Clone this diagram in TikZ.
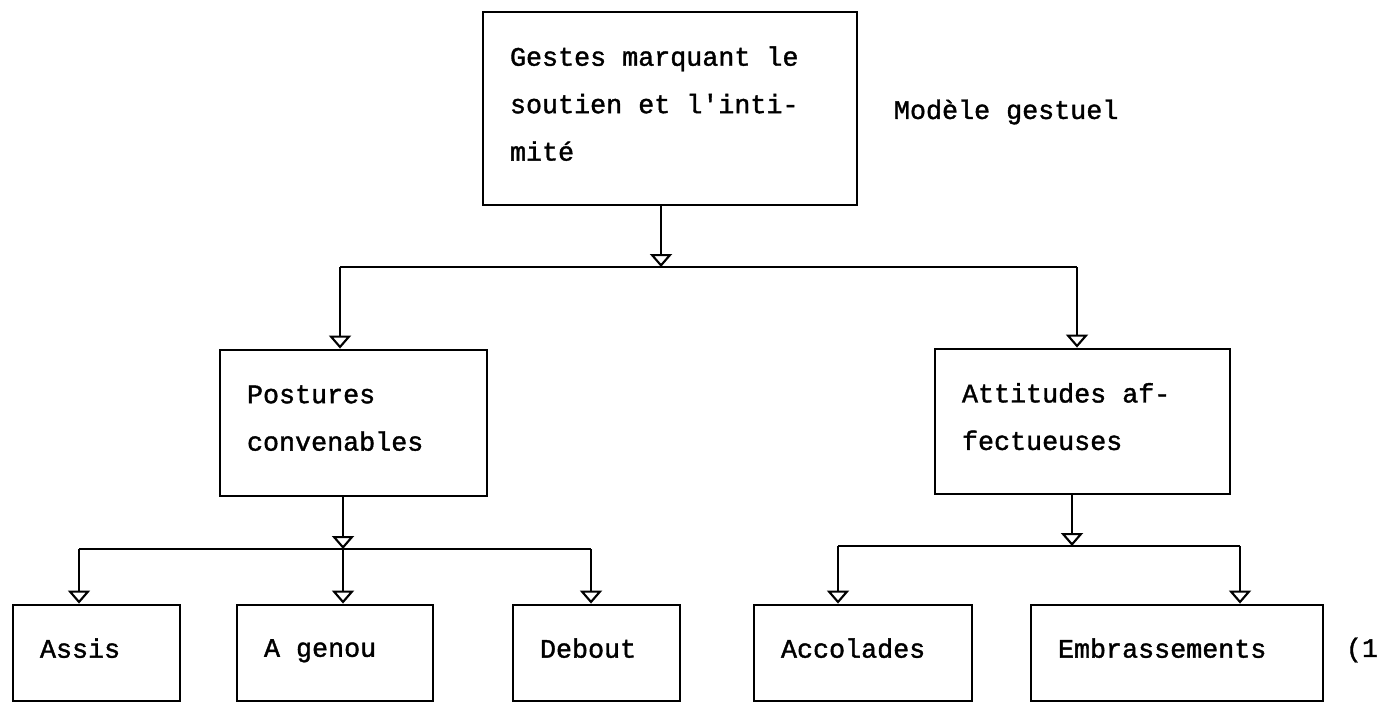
\documentclass[tikz,border=0pt]{standalone}
\usepackage{fontspec}
\setmonofont{Liberation Mono}[WordSpace={1,0,0}, RawFeature={embolden=1.4}]
\usetikzlibrary{arrows.meta}

\begin{document}
\begin{tikzpicture}[line width=1.1pt,
		main/.style = {draw, line width=1.6pt, inner xsep=0.54cm, inner ysep=0pt, align=left,
			font=\ttfamily\fontsize{15.2}{27}\selectfont,
			execute at begin node={\spaceskip=0.6em\xspaceskip=0.6em\relax},
			execute at end node={\rule[-0.2cm]{0pt}{0.2cm}}},
		lbl/.style = {inner sep=0pt, anchor=west, font=\ttfamily\fontsize{15.2}{27}\selectfont},
		arr/.style = {-{Triangle[open, length=0.26cm, width=0.44cm, line width=1.2pt]}}]
		\useasboundingbox (0,0) rectangle (27.82,-14.06);
		
		\begin{scope}
			\node[main, minimum width=7.48cm, minimum height=3.86cm, text width=6.40cm] (gestes) at (13.40,-2.17)
				{Gestes marquant le\\ soutien et l'inti-\\ mité};
			\node[lbl] (modele) at (17.86,-2.24) {Modèle gestuel};
			
			\path[shape=coordinate]
			(13.22,-5.34) coordinate(j0)
			(6.80,-5.34) coordinate(p0)
			(21.54,-5.34) coordinate(a0);
			
			\draw[arr] (gestes.south -| j0) -- (j0);
			\draw (p0) -- (a0);
		\end{scope}
		
		\begin{scope}
			\node[main, minimum width=5.34cm, minimum height=2.92cm, text width=4.26cm] (postures) at (7.07,-8.46)
				{Postures\\ convenables};
			\node[main, minimum width=5.90cm, minimum height=2.90cm, text width=4.82cm] (attitudes) at (21.65,-8.43)
				{Attitudes af-\\ fectueuses};
			
			\draw[arr] (p0) -- (p0 |- postures.north);
			\draw[arr] (a0) -- (a0 |- attitudes.north);
		\end{scope}
		
		\begin{scope}
			\node[main, minimum width=3.34cm, minimum height=1.92cm, text width=2.26cm] (assis) at (1.93,-13.06) {Assis};
			\node[main, minimum width=3.92cm, minimum height=1.92cm, text width=2.84cm] (genou) at (6.70,-13.06) {A genou};
			\node[main, minimum width=3.34cm, minimum height=1.92cm, text width=2.26cm] (debout) at (11.93,-13.06) {Debout};
			
			\path[shape=coordinate]
			(6.86,-10.98) coordinate(j1)
			(1.58,-10.98) coordinate(b1)
			(11.82,-10.98) coordinate(c1);
			
			\draw[arr] (postures.south -| j1) -- (j1);
			\draw (b1) -- (c1);
			\draw[arr] (b1) -- (b1 |- assis.north);
			\draw[arr] (j1) -- (j1 |- genou.north);
			\draw[arr] (c1) -- (c1 |- debout.north);
		\end{scope}
		
		\begin{scope}
			\node[main, minimum width=4.36cm, minimum height=1.92cm, text width=3.28cm] (accolades) at (17.26,-13.06) {Accolades};
			\node[main, minimum width=5.84cm, minimum height=1.92cm, text width=4.76cm] (embrass) at (23.54,-13.06) {Embrassements};
			\node[lbl] (renvoi) at (26.90,-13.00) {(1};
			
			\path[shape=coordinate]
			(21.44,-10.92) coordinate(j2)
			(16.76,-10.92) coordinate(b2)
			(24.80,-10.92) coordinate(c2);
			
			\draw[arr] (attitudes.south -| j2) -- (j2);
			\draw (b2) -- (c2);
			\draw[arr] (b2) -- (b2 |- accolades.north);
			\draw[arr] (c2) -- (c2 |- embrass.north);
		\end{scope}
	\end{tikzpicture}
\end{document}
